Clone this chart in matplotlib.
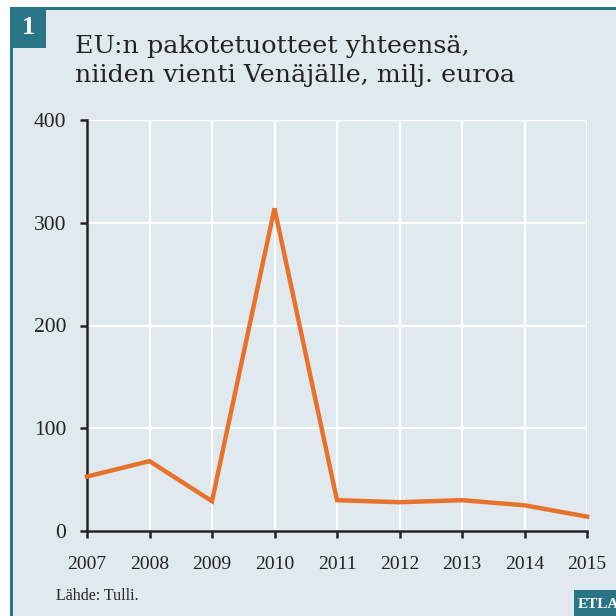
import matplotlib.pyplot as plt
from matplotlib.patches import Rectangle

# data
years = [2007, 2008, 2009, 2010, 2011, 2012, 2013, 2014, 2015]
export_values = [53, 68, 29, 314, 30, 28, 30, 25, 14]
y_ticks = [0, 100, 200, 300, 400]

title = "EU:n pakotetuotteet yhteensä,\nniiden vienti Venäjälle, milj. euroa"
source = "Lähde: Tulli."

bg = "#dfe9ee"
teal = "#2a7585"
orange = "#e8722c"

plt.rcParams['font.family'] = ['Liberation Serif', 'DejaVu Serif']

fig = plt.figure(figsize=(6.16, 6.16), dpi=100)
fig.patch.set_facecolor("white")

# background panel and teal frame
fig.patches.append(Rectangle((12/616, 0), 1, 1 - 8/616, transform=fig.transFigure,
                             facecolor=bg, edgecolor="none", zorder=0))
fig.patches.append(Rectangle((10/616, 1 - 10/616), 1, 3/616, transform=fig.transFigure,
                             facecolor=teal, edgecolor="none", zorder=1))
fig.patches.append(Rectangle((10/616, 0), 2.5/616, 1 - 8/616, transform=fig.transFigure,
                             facecolor=teal, edgecolor="none", zorder=1))
fig.patches.append(Rectangle((10/616, 1 - 48/616), 36/616, 40/616, transform=fig.transFigure,
                             facecolor=teal, edgecolor="none", zorder=1))
fig.text(28/616, 1 - 28/616, "1", color="white", fontsize=19, fontweight="bold",
         ha="center", va="center")

# ETLA badge bottom right
fig.patches.append(Rectangle((574/616, 0), 50/616, 26/616, transform=fig.transFigure,
                             facecolor=teal, edgecolor="none", zorder=1))
fig.text(578/616, 12/616, "ETLA", color="white", fontsize=11, fontweight="bold",
         ha="left", va="center")

fig.text(75/616, 1 - 61/616, title, fontsize=18.3, color="#222222",
         family="DejaVu Serif", ha="left", va="center", linespacing=1.35)
fig.text(56/616, 1 - 596/616, source, fontsize=11.5, color="#222222",
         ha="left", va="center")

ax = fig.add_axes([87/616, 1 - 531/616, 500/616, 411/616])
ax.set_zorder(3)
ax.set_facecolor(bg)
ax.plot(years, export_values, color=orange, linewidth=3.2, solid_joinstyle="miter",
        zorder=3, clip_on=False)

ax.set_xlim(years[0], years[-1])
ax.set_ylim(0, 400)
ax.set_xticks(years)
ax.set_yticks(y_ticks)
ax.grid(True, color="white", linewidth=1.6, zorder=1)
ax.set_axisbelow(True)

for s in ["top", "right"]:
    ax.spines[s].set_visible(False)
for s in ["left", "bottom"]:
    ax.spines[s].set_linewidth(1.8)
    ax.spines[s].set_color("#222222")

ax.tick_params(axis="both", direction="out", length=5, width=1.8, color="#222222",
               labelcolor="#222222")
ax.tick_params(axis="y", pad=10, labelsize=15.5)
ax.tick_params(axis="x", pad=13, labelsize=14)

fig.savefig("out.png", dpi=100, facecolor=fig.get_facecolor())
